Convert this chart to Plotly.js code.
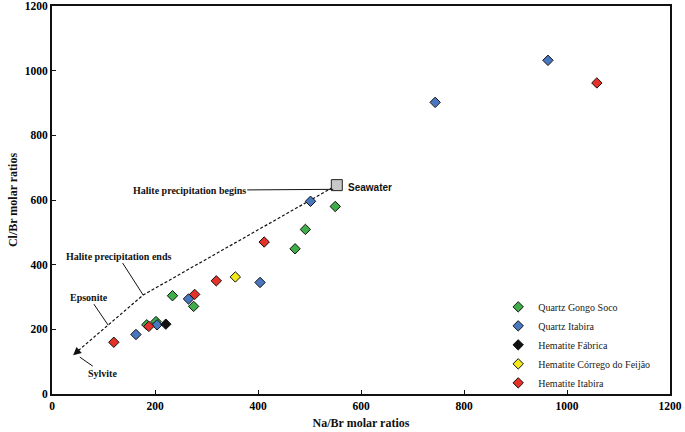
<!DOCTYPE html>
<html>
<head>
<meta charset="utf-8">
<script src="https://cdn.plot.ly/plotly-3.0.1.min.js"></script>
<style>html,body{margin:0;padding:0;background:#fff;}#chart{width:685px;height:432px;}</style>
</head>
<body>
<div id="chart"></div>
<script>
// Series (Na/Br, Cl/Br molar ratios)
const gongoSocoNa = [184, 202, 234, 275, 472, 492, 550];
const gongoSocoCl = [214, 224, 304, 271, 449, 509, 580];
const qItabiraNa = [163, 204, 265, 404, 502, 744, 963];
const qItabiraCl = [184, 214, 294, 345, 596, 902, 1032];
const fabricaNa = [221];
const fabricaCl = [216];
const feijaoNa = [356];
const feijaoCl = [362];
const hItabiraNa = [120, 188, 277, 319, 412, 1058];
const hItabiraCl = [160, 209, 308, 350, 470, 962];
const seawaterNa = [553];
const seawaterCl = [646];
// Seawater evaporation path
const pathNa = [553, 177, 45];
const pathCl = [646, 306, 126];
const tickValues = [0, 200, 400, 600, 800, 1000, 1200];
const tickLabels = ["0", "200", "400", "600", "800", "1000", "1200"];

const seriesNames = ["Quartz Gongo Soco", "Quartz Itabira", "Hematite Fábrica", "Hematite Córrego do Feijão", "Hematite Itabira"];
const seriesColors = ["#3fae49", "#4a78c0", "#111111", "#f2ea1a", "#e53228"];
const seriesX = [gongoSocoNa, qItabiraNa, fabricaNa, feijaoNa, hItabiraNa];
const seriesY = [gongoSocoCl, qItabiraCl, fabricaCl, feijaoCl, hItabiraCl];

const serif = "Liberation Serif, Times New Roman, serif";
const boldTicks = tickLabels.map(t => "<b>" + t + "</b>");

const traces = [{
  x: pathNa, y: pathCl, mode: "lines", showlegend: false, hoverinfo: "skip",
  line: {color: "#111", width: 1.2, dash: "3px,2px"}
}, {
  x: seawaterNa, y: seawaterCl, mode: "markers", showlegend: false,
  marker: {symbol: "square", size: 11, color: "#c8c8c8", line: {color: "#222", width: 1}}
}];
for (let i = 0; i < seriesNames.length; i++) {
  traces.push({
    x: seriesX[i], y: seriesY[i], name: seriesNames[i], mode: "markers", type: "scatter",
    marker: {symbol: "diamond", size: 8, color: seriesColors[i], line: {color: "#111", width: 1}}
  });
}

const annFont = {family: serif, size: 10, color: "#111"};
const tickFont = {family: serif, size: 11.5, color: "#000"};
const layout = {
  width: 685, height: 432,
  margin: {l: 52, r: 15, t: 6, b: 38},
  paper_bgcolor: "#fff", plot_bgcolor: "#fff",
  showlegend: true,
  legend: {x: 0.722, y: 0.262, xanchor: "left", yanchor: "top", bgcolor: "rgba(0,0,0,0)",
    font: {family: serif, size: 10, color: "#222"}, itemwidth: 30, tracegroupgap: 0},
  xaxis: {
    range: [0, 1200], tickvals: tickValues, ticktext: boldTicks, ticklabeloverflow: "allow",
    ticks: "inside", ticklen: 4, tickwidth: 1, tickcolor: "#111",
    showline: true, linecolor: "#111", linewidth: 2, mirror: true,
    showgrid: false, zeroline: false, tickfont: tickFont,
    title: {text: "<b>Na/Br molar ratios</b>", font: {family: serif, size: 12, color: "#111"}, standoff: 8}
  },
  yaxis: {
    range: [0, 1200], tickvals: tickValues, ticktext: boldTicks, ticklabeloverflow: "allow",
    ticks: "inside", ticklen: 4, tickwidth: 1, tickcolor: "#111",
    showline: true, linecolor: "#111", linewidth: 2, mirror: true,
    showgrid: false, zeroline: false, tickfont: tickFont,
    title: {text: "<b>Cl/Br molar ratios</b>", font: {family: serif, size: 12, color: "#111"}, standoff: 5}
  },
  annotations: [
    {x: 546, y: 633, ax: -144, ay: 1, text: "<b>Halite precipitation begins</b>", showarrow: true,
      arrowhead: 0, arrowwidth: 1, arrowcolor: "#111", font: annFont, standoff: 0},
    {x: 553, y: 646, text: "<b>Seawater</b>", showarrow: false, xanchor: "left", xshift: 9, yshift: -2,
      font: {family: "Liberation Sans, Arial, sans-serif", size: 10, color: "#111"}},
    {x: 177, y: 306, ax: -25, ay: -39, text: "<b>Halite precipitation ends</b>", showarrow: true,
      arrowhead: 0, arrowwidth: 1, arrowcolor: "#111", font: annFont},
    {x: 109, y: 213, ax: -19, ay: -28, text: "<b>Epsonite</b>", showarrow: true,
      arrowhead: 0, arrowwidth: 1, arrowcolor: "#111", font: annFont},
    {x: 54, y: 114, ax: 23, ay: 16, text: "<b>Sylvite</b>", showarrow: true,
      arrowhead: 0, arrowwidth: 1, arrowcolor: "#111", font: annFont},
    {x: 41, y: 120, ax: 8, ay: -7, text: "", showarrow: true,
      arrowhead: 2, arrowsize: 1.6, arrowwidth: 1, arrowcolor: "#111"}
  ]
};
Plotly.newPlot("chart", traces, layout, {staticPlot: true, displayModeBar: false});
</script>
</body>
</html>
